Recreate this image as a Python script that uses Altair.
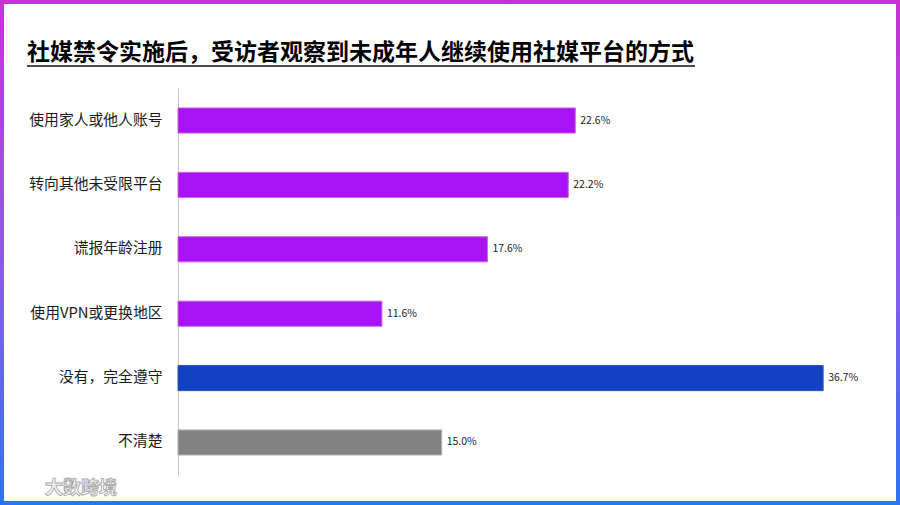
import altair as alt
import pandas as pd

categories = ["使用家人或他人账号", "转向其他未受限平台", "谎报年龄注册", "使用VPN或更换地区", "没有，完全遵守", "不清楚"]
values = [22.6, 22.2, 17.6, 11.6, 36.7, 15.0]
groups = ["规避", "规避", "规避", "规避", "遵守", "不清楚"]
title_text = "社媒禁令实施后，受访者观察到未成年人继续使用社媒平台的方式"
watermark = "大数跨境"

df = pd.DataFrame({"方式": categories, "比例": values, "类别": groups})
df["标签"] = [f"{v:.1f}%" for v in values]

FONT = "Noto Sans CJK SC"
W, H = 668, 387
PL, PT = 178, 88

color_scale = alt.Scale(domain=["规避", "遵守", "不清楚"], range=["#A912F7", "#1341C6", "#828282"])
stroke_scale = alt.Scale(domain=["规避", "遵守", "不清楚"], range=["#C964D6", "#2A5AA8", "#B0B0B0"])

y_enc = alt.Y("方式:N", sort=categories, title=None,
              scale=alt.Scale(paddingInner=0.61, paddingOuter=0.31),
              axis=alt.Axis(labelFont=FONT, labelFontSize=14.8, labelColor="#1a1a1a",
                            labelPadding=16, ticks=False, domainColor="#c4c4c4",
                            domainWidth=1, grid=False, labelLimit=300))
x_enc = alt.X("比例:Q", scale=alt.Scale(domain=[0, 38], nice=False, zero=True), axis=None)

bars = alt.Chart(df).mark_bar(strokeWidth=1).encode(
    y=y_enc, x=x_enc,
    color=alt.Color("类别:N", scale=color_scale, legend=None),
    stroke=alt.Stroke("类别:N", scale=stroke_scale, legend=None),
)

labels = alt.Chart(df).mark_text(align="left", baseline="middle", dx=5,
                                 font=FONT, fontSize=10.5, color="#222222").encode(
    y=alt.Y("方式:N", sort=categories), x="比例:Q", text="标签:N")

one = alt.Data(values=[{"a": 1}])

frame = alt.Chart(one).mark_rect(
    fillOpacity=0, strokeWidth=4,
    stroke=alt.LinearGradient(gradient="linear", x1=0, y1=0, x2=0, y2=1,
                              stops=[alt.GradientStop(offset=0, color="#C832D3"),
                                     alt.GradientStop(offset=0.55, color="#8A5CEB"),
                                     alt.GradientStop(offset=1, color="#2C73F2")]),
).encode(x=alt.value(-PL + 2), x2=alt.value(900 - PL - 2),
         y=alt.value(-PT + 2), y2=alt.value(505 - PT - 2))

title = alt.Chart(one).mark_text(align="left", baseline="middle", font=FONT,
                                 fontSize=23, fontWeight="bold", color="#000000",
                                 text=title_text).encode(
    x=alt.value(27 - PL), y=alt.value(53 - PT))

underline = alt.Chart(one).mark_rule(color="#111111", strokeWidth=1.5).encode(
    x=alt.value(27 - PL), x2=alt.value(695 - PL), y=alt.value(66 - PT))

wm = alt.Chart(one).mark_text(align="left", baseline="middle", font=FONT,
                              fontSize=18, fontWeight="bold", fill="#ffffff",
                              stroke="#a8a8a8", strokeWidth=0.9, text=watermark).encode(
    x=alt.value(45 - PL), y=alt.value(489 - PT))

chart = alt.layer(frame, title, underline, wm, bars, labels).properties(
    width=W, height=H,
    autosize=alt.AutoSizeParams(type="none"),
    padding={"left": PL, "top": PT, "right": 900 - PL - W, "bottom": 505 - PT - H},
    background="#ffffff",
).configure_view(stroke=None)

chart.save("out.html", embed_options={"renderer": "svg", "actions": False})
